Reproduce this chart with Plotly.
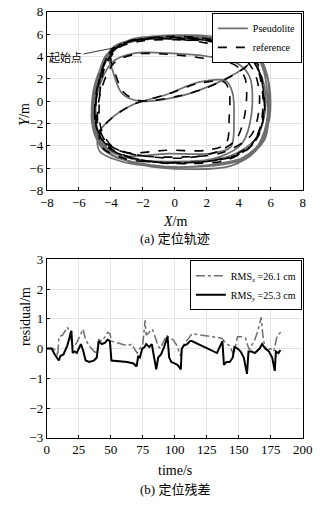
import plotly.graph_objects as go

# ---- trajectory waypoints (m), one line per loop ----
ref_x = [-3.7, -4.5, -4.9, -4.9, -4.3, -2.5, 0.0, 2.5, 4.5, 5.3, 5.5, 5.0, 3.8, 2.0, 0.0, -2.0, -3.5,
         -4.0, -3.8, -3.2, -2.2, 0.2, 2.0, 3.6, 4.6, 4.3, 2.5, 0.0, -2.0, -3.6,
         -4.6, -5.0, -4.8, -3.8, -1.5, 1.0, 3.5, 5.0, 5.6, 5.4, 4.8, 3.0, 0.5, -2.0, -3.8,
         -4.7, -4.9, -4.2, -2.5, 0.5, 3.0, 4.8, 5.3, 5.0, 4.0, 2.0, -0.5, -2.8, -4.2,
         -4.8, -5.0, -4.5, -3.0, -0.5, 2.0, 3.2, 3.4, 3.4, 3.1, 1.5, -0.5, -2.6, -4.0, -4.7, -4.5,
         -3.0, -0.5, 2.0, 4.0, 5.2, 5.6, 5.3, 4.5, 2.8, 0.5, -1.8, -3.3, -4.3,
         -4.7, -4.6, -3.8, -2.0, 0.5, 2.5, 3.8, 4.4, 4.4, 3.8, 2.0, -0.5, -2.5, -3.8,
         -4.6, -4.8, -4.0, -2.0, 0.8, 3.2, 4.8, 5.5, 5.5, 5.0, 3.5, 1.0, -1.5, -3.2]
ref_y = [4.8, 3.0, 0.5, -2.0, -4.0, -5.2, -5.6, -5.3, -4.4, -2.5, 0.5, 3.5, 5.0, 5.6, 5.8, 5.6, 5.0,
         3.8, 2.8, 0.8, 0.05, 0.45, 1.2, 2.3, 3.4, 4.6, 5.3, 5.5, 5.4, 4.7,
         2.5, -0.5, -2.8, -4.5, -5.4, -5.5, -5.0, -3.5, -1.0, 2.0, 4.0, 5.2, 5.6, 5.5, 4.8,
         2.0, -1.5, -3.8, -4.8, -5.0, -4.6, -3.0, 0.0, 2.5, 4.3, 5.2, 5.6, 5.4, 4.0,
         1.0, -1.5, -3.5, -4.6, -4.4, -4.4, -3.8, -1.5, 0.8, 1.7, 1.6, 0.6, -0.3, -1.6, -2.8, -4.2,
         -5.2, -5.5, -5.4, -4.8, -3.2, -0.5, 2.5, 4.3, 5.3, 5.7, 5.6, 5.0, 3.3,
         0.5, -2.5, -4.2, -4.9, -5.1, -4.6, -3.5, -1.0, 2.0, 3.2, 3.8, 4.2, 4.2, 3.4,
         1.0, -2.0, -4.2, -5.3, -5.6, -5.3, -4.0, -1.5, 1.5, 3.8, 5.0, 5.6, 5.7, 5.2]

pse_x = [-3.7, -4.6, -5.0, -5.1, -4.5, -2.6, 0.1, 2.7, 4.7, 5.6, 5.8, 5.3, 4.0, 2.2, 0.1, -1.9, -3.4,
         -4.1, -3.9, -3.3, -2.2, 0.2, 2.1, 3.7, 4.7, 4.5, 2.7, 0.1, -2.0, -3.7,
         -4.8, -5.2, -5.0, -4.0, -1.6, 1.2, 3.8, 5.3, 5.9, 5.8, 5.0, 3.2, 0.6, -1.9, -3.8,
         -4.9, -5.1, -4.4, -2.6, 0.6, 3.3, 5.1, 5.7, 5.3, 4.2, 2.1, -0.4, -2.8, -4.3,
         -5.0, -5.2, -4.7, -3.1, -0.4, 2.2, 3.5, 3.7, 3.6, 3.2, 1.5, -0.5, -2.6, -4.1, -4.8, -4.7,
         -3.1, -0.4, 2.2, 4.3, 5.6, 5.9, 5.7, 4.8, 3.0, 0.6, -1.7, -3.3, -4.4,
         -4.9, -4.8, -4.0, -2.1, 0.6, 2.8, 4.2, 4.8, 4.7, 4.0, 2.1, -0.4, -2.5, -3.9,
         -4.8, -5.0, -4.2, -2.1, 0.9, 3.5, 5.1, 5.9, 5.9, 5.3, 3.8, 1.1, -1.4, -3.2]
pse_y = [4.8, 3.0, 0.4, -2.2, -4.3, -5.5, -5.9, -5.6, -4.8, -2.7, 0.4, 3.6, 5.2, 5.8, 5.9, 5.7, 5.1,
         3.8, 2.8, 0.7, 0.0, 0.4, 1.3, 2.4, 3.5, 4.8, 5.5, 5.6, 5.5, 4.8,
         2.4, -0.6, -3.0, -4.8, -5.7, -5.9, -5.4, -3.8, -1.1, 2.0, 4.2, 5.4, 5.8, 5.6, 4.9,
         1.9, -1.7, -4.1, -5.2, -5.4, -5.0, -3.3, 0.0, 2.6, 4.5, 5.4, 5.8, 5.5, 4.1,
         0.9, -1.7, -3.8, -4.9, -4.7, -4.7, -4.1, -1.6, 0.8, 1.8, 1.7, 0.6, -0.3, -1.7, -3.0, -4.5,
         -5.5, -5.9, -5.8, -5.2, -3.5, -0.6, 2.6, 4.5, 5.5, 5.9, 5.7, 5.1, 3.3,
         0.4, -2.7, -4.5, -5.3, -5.5, -5.0, -3.8, -1.1, 2.1, 3.3, 4.0, 4.3, 4.3, 3.5,
         0.9, -2.2, -4.5, -5.7, -6.1, -5.8, -4.4, -1.7, 1.5, 3.9, 5.2, 5.8, 5.8, 5.3]

# ---- positioning residuals (m) over time (s) ----
t_x = [0, 5, 7.4, 8.6, 9.4, 12.3, 16, 18, 19.7, 21, 23.4, 25.9, 28.3, 30.3, 33, 37, 39.4,
       40.6, 43, 45.6, 47.5, 49.3, 50.5, 62.8, 66.5, 69, 70.7, 72.7, 75, 76.8, 77.6, 80, 82.5,
       85, 86.7, 88.7, 91, 93.6, 96, 98.5, 101, 103.4, 104.7, 106, 108, 111, 113.3, 136.7, 138.4,
       140.4, 142.9, 145.3, 146.6, 148.5, 149, 152.7, 155.2, 157, 158.4, 160, 162.5, 165, 167.5,
       168.7, 170, 172.4, 174.9, 177.3, 178.6, 179.8, 181.5, 182.8]
res_x = [0.0, 0.0, -0.1, -0.25, 0.4, 0.45, 0.72, 0.55, 0.15, 0.05, 0.2, 0.45, 0.65, 0.3, 0.1, -0.1, -0.15,
         0.3, 0.25, 0.4, 0.55, 0.5, 0.25, 0.1, 0.15, -0.05, -0.15, 0.0, 0.15, 0.95, 0.45, 0.55, 0.65,
         0.35, 0.1, 0.0, 0.2, 0.45, 0.35, 0.3, 0.15, -0.15, -0.25, 0.05, 0.2, 0.35, 0.5, 0.35, 0.25,
         0.15, 0.1, -0.15, -0.1, 0.3, 0.4, 0.4, 0.35, 0.1, -0.05, 0.1, 0.3, 0.6, 1.05,
         0.5, 0.1, -0.05, 0.0, -0.1, 0.2, 0.4, 0.5, 0.55]

t_y = [0, 3.7, 6.2, 8.1, 9.4, 10.6, 13, 16, 18, 19.2, 20.2, 21.7, 23.4, 25.4, 26.6, 28.3, 30.3,
       33.3, 37, 39, 40.6, 43, 45.6, 47.5, 49.3, 50.5, 62.8, 67.7, 70.2, 71.4, 72.7, 74.6, 76.4,
       77.6, 80, 82, 83.7, 85.5, 87, 89.2, 91.6, 94.3, 95.6, 97.3, 99.8, 102.2, 104.7, 105.4,
       107.1, 109.6, 112, 113.3, 133, 135.5, 137.2, 138.4, 140.4, 142.9, 145.3, 146.6, 149,
       151.5, 153.9, 156.4, 157.6, 160, 162.5, 166.3, 168.2, 170.7, 173.6, 176.1, 178.1, 179,
       181, 182.5]
res_y = [0.0, 0.0, -0.2, -0.35, -0.4, -0.25, -0.2, 0.1, 0.45, 0.6, -0.15, -0.1, -0.15, 0.05, 0.15, -0.05, -0.4,
         -0.45, -0.4, -0.3, 0.25, 0.15, 0.2, 0.3, 0.25, -0.4, -0.45, -0.5, -0.6, -0.25, -0.3, 0.0, 0.05,
         0.15, 0.05, 0.15, -0.3, -0.7, -0.3, -0.2, 0.05, 0.4, -0.3, -0.45, -0.5, -0.55, -0.7, 0.0,
         0.1, 0.15, 0.25, 0.25, -0.15, 0.1, 0.25, -0.55, -0.45, -0.45, -0.3, 0.05, 0.0,
         -0.1, -0.3, -0.85, -0.1, -0.1, -0.15, 0.0, 0.15, 0.0, -0.1, -0.3, -0.75, -0.1,
         -0.15, -0.05]

xy_ticks = [-8, -6, -4, -2, 0, 2, 4, 6, 8]
res_ticks = [-3, -2, -1, 0, 1, 2, 3]
time_ticks = [0, 25, 50, 75, 100, 125, 150, 175, 200]

FONT = "Liberation Serif, Times New Roman, Noto Sans CJK SC, serif"
GRAY = "#6e6e6e"

fig = go.Figure()
fig.add_trace(go.Scatter(x=pse_x, y=pse_y, mode="lines", name="Pseudolite",
                         line=dict(color=GRAY, width=1.7, shape="spline", smoothing=0.9),
                         xaxis="x", yaxis="y", legend="legend"))
fig.add_trace(go.Scatter(x=ref_x, y=ref_y, mode="lines", name="reference",
                         line=dict(color="black", width=1.6, dash="dash", shape="spline", smoothing=0.9),
                         xaxis="x", yaxis="y", legend="legend"))
fig.add_trace(go.Scatter(x=t_x, y=res_x, mode="lines", name="RMS<sub><i>x</i></sub> =26.1 cm",
                         line=dict(color=GRAY, width=1.5, dash="dashdot"),
                         xaxis="x2", yaxis="y2", legend="legend2"))
fig.add_trace(go.Scatter(x=t_y, y=res_y, mode="lines", name="RMS<sub><i>y</i></sub> =25.3 cm",
                         line=dict(color="black", width=2),
                         xaxis="x2", yaxis="y2", legend="legend2"))

axis_common = dict(showline=True, linecolor="black", linewidth=1, mirror=True,
                   ticks="inside", ticklen=3, tickcolor="black",
                   showgrid=True, gridcolor="#e4e4e4", gridwidth=1, zeroline=False,
                   tickfont=dict(family=FONT, size=13, color="black"))

xd = [42 / 327, 312 / 327]
legend_common = dict(xanchor="right", yanchor="top", bgcolor="white", bordercolor="black",
                     borderwidth=1, font=dict(family=FONT, size=10), tracegroupgap=0,
                     itemwidth=30, traceorder="normal")
fig.update_layout(
    width=327, height=506, margin=dict(l=0, r=0, t=0, b=0),
    paper_bgcolor="white", plot_bgcolor="white",
    font=dict(family=FONT, color="black"),
    xaxis=dict(domain=xd, range=[-8, 8], tickvals=xy_ticks, anchor="y", **axis_common),
    yaxis=dict(domain=[(506 - 189) / 506, (506 - 5) / 506], range=[-8, 8], tickvals=xy_ticks,
               anchor="x", **axis_common),
    xaxis2=dict(domain=xd, range=[0, 200], tickvals=time_ticks, anchor="y2", **axis_common),
    yaxis2=dict(domain=[(506 - 444) / 506, (506 - 260) / 506], range=[-3, 3], tickvals=res_ticks,
                anchor="x2", **axis_common),
    legend=dict(x=312 / 327 - 0.003, y=(506 - 5) / 506 - 0.002, **legend_common),
    legend2=dict(x=312 / 327 - 0.003, y=(506 - 260) / 506 - 0.002, **legend_common),
    showlegend=True,
)

# axis titles and sub-figure captions
texts = [
    dict(x=177 / 327, y=1 - 221 / 506, text="<i>X</i>/m", size=14),
    dict(x=177 / 327, y=1 - 239 / 506, text="(a) 定位轨迹", size=13),
    dict(x=177 / 327, y=1 - 478 / 506, text="time/s", size=14),
    dict(x=177 / 327, y=1 - 497 / 506, text="(b) 定位残差", size=13),
]
for t in texts:
    fig.add_annotation(x=t["x"], y=t["y"], xref="paper", yref="paper", text=t["text"],
                       showarrow=False, xanchor="center", yanchor="middle",
                       font=dict(family=FONT, size=t["size"], color="black"))
fig.add_annotation(x=9 / 327, y=1 - 97 / 506, xref="paper", yref="paper", text="<i>Y</i>/m",
                   showarrow=False, textangle=-90, font=dict(family=FONT, size=14, color="black"))
fig.add_annotation(x=9 / 327, y=1 - 352 / 506, xref="paper", yref="paper", text="residual/m",
                   showarrow=False, textangle=-90, font=dict(family=FONT, size=14, color="black"))

# start-point callout
fig.add_annotation(x=-3.7, y=4.8, xref="x", yref="y", text="起始点", showarrow=True,
                   arrowhead=0, arrowwidth=0.8, arrowcolor="black", ax=-50, ay=10,
                   font=dict(family=FONT, size=11, color="black"))

fig.write_html("out.html")
